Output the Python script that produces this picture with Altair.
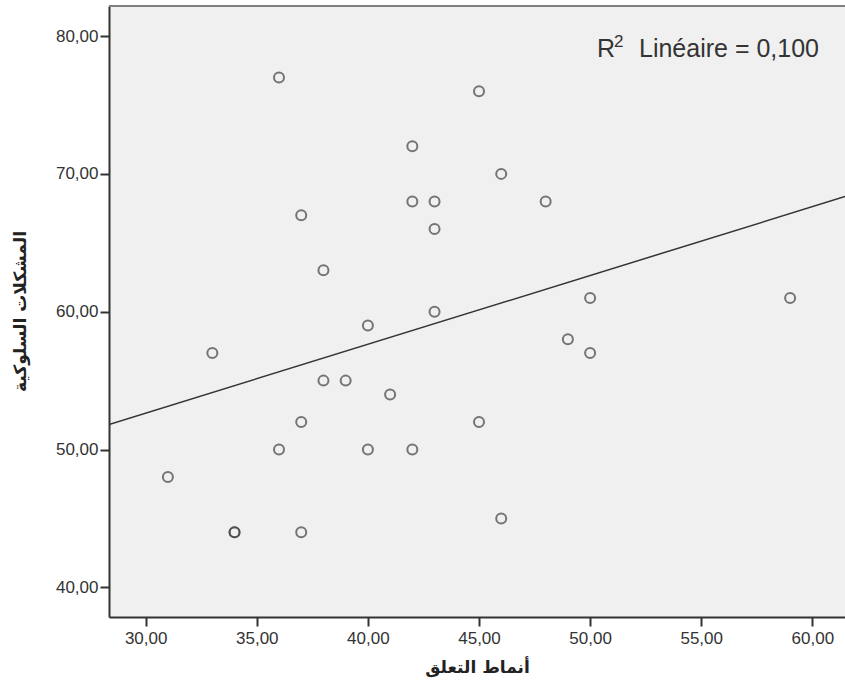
import altair as alt
import pandas as pd

# Data
x_vals = [36, 37, 33, 36, 31, 37, 34, 34, 37, 46, 45, 42, 46, 42, 43,
          48, 43, 38, 43, 40, 49, 38, 39, 41, 45, 40, 42, 50, 59, 50]
y_vals = [77, 67, 57, 50, 48, 52, 44, 44, 44, 45, 76, 72, 70, 68, 68,
          68, 66, 63, 60, 59, 58, 55, 55, 54, 52, 50, 50, 61, 61, 57]
x_ticks = [30, 35, 40, 45, 50, 55, 60]
y_ticks = [40, 50, 60, 70, 80]
x_domain = [28.35, 61.47]
y_domain = [37.85, 82.18]
X_TITLE = "أنماط التعلق"
Y_TITLE = "المشكلات السلوكية"
R_TEXT = "R"
R_SUP = "2"
R2_REST = "Linéaire = 0,100"

df = pd.DataFrame({"x": x_vals, "y": y_vals})

label_expr = "replace(format(datum.value, '.2f'), '.', ',')"
x_scale = alt.Scale(domain=x_domain, nice=False, zero=False)
y_scale = alt.Scale(domain=y_domain, nice=False, zero=False)

common_axis = dict(
    labelExpr=label_expr, grid=False, tickSize=9, tickWidth=2,
    tickColor="#333333", domainColor="#333333", domainWidth=2,
    labelFont="Liberation Sans", labelFontSize=17, labelColor="#333333",
    titleFont="DejaVu Sans", titleFontSize=17, titleFontWeight="bold",
    titleColor="#222222",
)

x_axis = alt.Axis(values=x_ticks, title=X_TITLE, labelPadding=4,
                  titlePadding=13, **common_axis)
y_axis = alt.Axis(values=y_ticks, title=Y_TITLE, labelPadding=2,
                  titleX=-89, titleY=305, titleAngle=-90,
                  titleAlign="center", titleBaseline="middle", **common_axis)

W, H = 736, 611

points = alt.Chart(df).mark_point(
    shape="circle", filled=False, size=100, strokeWidth=2, color="#404040"
).encode(
    x=alt.X("x:Q", scale=x_scale, axis=x_axis),
    y=alt.Y("y:Q", scale=y_scale, axis=y_axis),
)

fit = alt.Chart(df).transform_regression(
    "x", "y", extent=x_domain
).mark_line(color="#333333", strokeWidth=1.5, clip=True).encode(
    x=alt.X("x:Q", scale=x_scale),
    y=alt.Y("y:Q", scale=y_scale),
)

top_border = alt.Chart(df).mark_rule(color="#808080", strokeWidth=2).encode(
    x=alt.value(0), x2=alt.value(W), y=alt.value(0)
)

txt = pd.DataFrame({"t": [0]})
r_mark = alt.Chart(txt).mark_text(
    text=R_TEXT, font="Liberation Sans", fontSize=25, color="#333333",
    align="left", baseline="alphabetic"
).encode(x=alt.value(488), y=alt.value(51))
sup_mark = alt.Chart(txt).mark_text(
    text=R_SUP, font="Liberation Sans", fontSize=17, color="#333333",
    align="left", baseline="alphabetic"
).encode(x=alt.value(505), y=alt.value(41))
rest_mark = alt.Chart(txt).mark_text(
    text=R2_REST, font="Liberation Sans", fontSize=25, color="#333333",
    align="right", baseline="alphabetic"
).encode(x=alt.value(710), y=alt.value(51))

chart = alt.layer(fit, points, top_border, r_mark, sup_mark, rest_mark).properties(
    width=W, height=H,
    autosize=alt.AutoSizeParams(type="none"),
    padding={"left": 109, "top": 6, "right": 0, "bottom": 70},
    background="white",
).configure_view(stroke=None, fill="#F0F0F0")

chart.save("out.html", embed_options={"renderer": "svg", "actions": False})
